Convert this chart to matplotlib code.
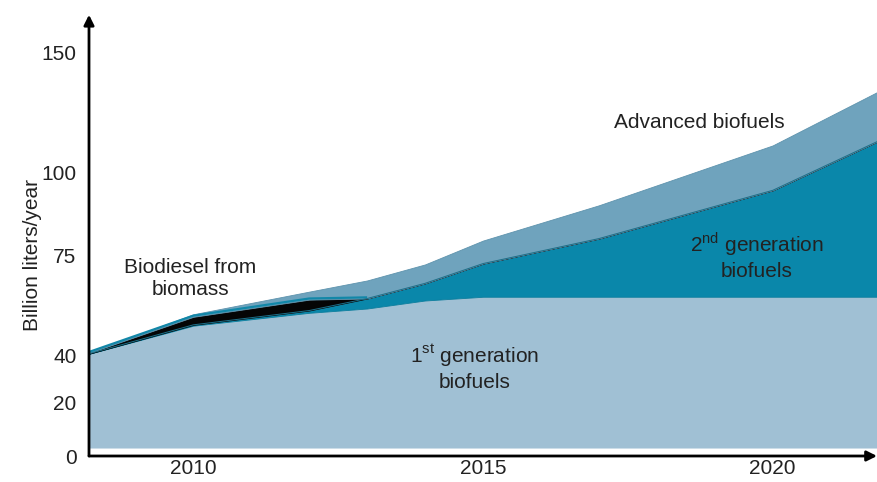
import numpy as np
import matplotlib
matplotlib.use("Agg")
import matplotlib.pyplot as plt

plt.rcParams['font.family'] = ['Liberation Sans', 'DejaVu Sans']
plt.rcParams['mathtext.fontset'] = 'custom'
plt.rcParams['mathtext.rm'] = 'Liberation Sans'

# Data (billion liters/year)
years = [2008, 2010, 2012, 2013, 2014, 2015, 2017, 2020, 2022]
base = 3
first_gen = [39.5, 50.5, 55.0, 56.5, 59.3, 60.6, 60.6, 60.6, 60.6]   # top of 1st gen band
second_gen = [0.0, 0.3, 0.8, 3.5, 6.0, 11.6, 19.5, 34.0, 54.4]
biodiesel = [0.0, 2.8, 3.8, 0.0, 0.0, 0.0, 0.0, 0.0, 0.0]
advanced = [0.0, 0.9, 2.8, 6.3, 6.6, 7.3, 10.0, 16.6, 20.8]

ytick_vals = [0, 20, 40, 75, 100, 150]
xtick_vals = [2010, 2015, 2020]

# the original axis is not linear: piecewise mapping of tick values to height
scale_vals = [0, 20, 40, 75, 100, 150, 200]
scale_pos = [0, 53, 100, 200, 283, 403, 523]


def fwd(v):
    return np.interp(v, scale_vals, scale_pos)


def inv(p):
    return np.interp(p, scale_pos, scale_vals)


fig = plt.figure(figsize=(8.77, 4.82), dpi=100)
ax = fig.add_axes([89 / 877, 26 / 482, 788 / 877, 436 / 482])
ax.set_yscale('function', functions=(fwd, inv))

y1 = np.array(first_gen)
y2 = y1 + np.array(second_gen)
y3 = y2 + np.array(biodiesel)
y4 = y3 + np.array(advanced)

ax.fill_between(years, base, y1, color='#a0c0d4', lw=0)
ax.fill_between(years, y1, y2, facecolor='#0a87aa', edgecolor='#0a7c9c', lw=0.6)
ax.fill_between(years, y2, y3, facecolor='#050505', edgecolor='#050505', lw=0.6)
ax.fill_between(years, y3, y4, facecolor='#6fa3bd', edgecolor='#5e93ad', lw=0.6)
# thin teal rim over the biodiesel band
ax.plot(years[:4], y3[:4] + 0.4, color='#1287a8', lw=1.6, solid_capstyle='butt')
ax.plot(years, y2, color='#1d6f88', lw=0.7)

ax.set_xlim(2008.2, 2021.8)
ax.set_ylim(0, inv(435))

ax.set_xticks(xtick_vals)
ax.set_yticks(ytick_vals)
ax.set_yticklabels([str(v) for v in ytick_vals])
ax.minorticks_off()
ax.tick_params(length=0, labelsize=15, colors='#222222')
ax.tick_params(axis='x', pad=2)
ax.tick_params(axis='y', pad=9)
ax.set_ylabel('Billion liters/year', fontsize=15, color='#222222')
ax.yaxis.set_label_coords(-0.06, 0.46)

for s in ax.spines.values():
    s.set_visible(False)

arrow = dict(arrowstyle='-|>,head_length=0.6,head_width=0.3', lw=2, color='black',
             shrinkA=0, shrinkB=0)
ax.annotate('', xy=(0, 1.012), xytext=(0, 0), xycoords='axes fraction',
            arrowprops=arrow, annotation_clip=False)
ax.annotate('', xy=(1.0, 0), xytext=(0, 0), xycoords='axes fraction',
            arrowprops=arrow, annotation_clip=False)

tk = dict(fontsize=15, color='#222222', ha='center', va='center', linespacing=1.25)
ax.text(2009.95, 67, 'Biodiesel from\nbiomass', **tk)
ax.text(2018.74, 120.8, 'Advanced biofuels', **tk)
ax.text(2019.73, 75, '2$^{\\mathrm{nd}}$ generation\nbiofuels', **tk)
ax.text(2014.86, 35, '1$^{\\mathrm{st}}$ generation\nbiofuels', **tk)

fig.savefig('out.png', dpi=100)
